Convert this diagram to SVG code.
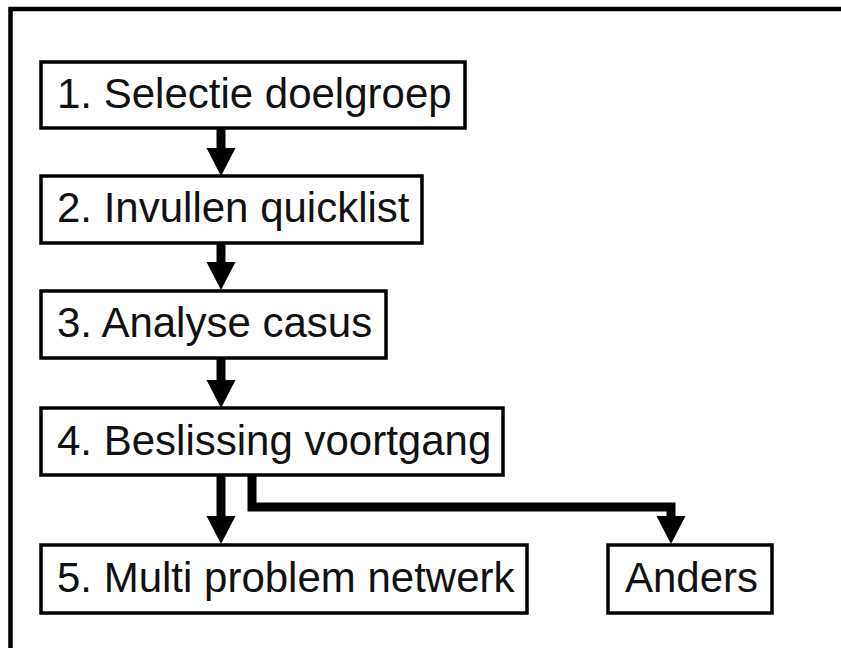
<svg xmlns="http://www.w3.org/2000/svg" width="841" height="648" viewBox="0 0 841 648">
  <style>
    .box { fill: #ffffff; stroke: #000000; stroke-width: 3.5; }
    .label { font-family: "Liberation Sans", Arial, Helvetica, sans-serif; font-size: 42px; fill: #111111; }
    .wire { fill: none; stroke: #000000; stroke-width: 9; stroke-linejoin: miter; }
    .head { fill: #000000; }
  </style>
  <defs>
    <!-- downward arrowhead, tip at the origin -->
    <polygon id="tip" class="head" points="-14.5,-28 14.5,-28 0,0"/>
  </defs>

  <rect width="841" height="648" fill="#ffffff"/>
  <!-- outer frame -->
  <rect x="10.5" y="9" width="834" height="700" fill="none" stroke="#000000" stroke-width="4.5"/>

  <g id="connectors">
    <line class="wire" x1="221" y1="128" x2="221" y2="150"/>
    <use href="#tip" x="221" y="176"/>
    <line class="wire" x1="221" y1="243" x2="221" y2="264"/>
    <use href="#tip" x="221" y="290"/>
    <line class="wire" x1="221" y1="358" x2="221" y2="382"/>
    <use href="#tip" x="221" y="408"/>
    <line class="wire" x1="221" y1="475" x2="221" y2="517"/>
    <use href="#tip" x="221" y="544"/>
    <polyline class="wire" points="252,475 252,507 671,507 671,517"/>
    <use href="#tip" x="671" y="544"/>
  </g>

  <g id="n1">
    <rect class="box" x="41" y="62" width="424" height="66"/>
    <text class="label" x="57" y="108">1. Selectie doelgroep</text>
  </g>
  <g id="n2">
    <rect class="box" x="41" y="176" width="381" height="67"/>
    <text class="label" x="57" y="222">2. Invullen quicklist</text>
  </g>
  <g id="n3">
    <rect class="box" x="41" y="291" width="345" height="67"/>
    <text class="label" x="57" y="337">3. Analyse casus</text>
  </g>
  <g id="n4">
    <rect class="box" x="41" y="408" width="462" height="67"/>
    <text class="label" x="57" y="455">4. Beslissing voortgang</text>
  </g>
  <g id="n5">
    <rect class="box" x="41" y="545" width="486" height="68"/>
    <text class="label" x="57" y="592">5. Multi problem netwerk</text>
  </g>
  <g id="anders">
    <rect class="box" x="608" y="545" width="164" height="68"/>
    <text class="label" x="625" y="592">Anders</text>
  </g>
</svg>
